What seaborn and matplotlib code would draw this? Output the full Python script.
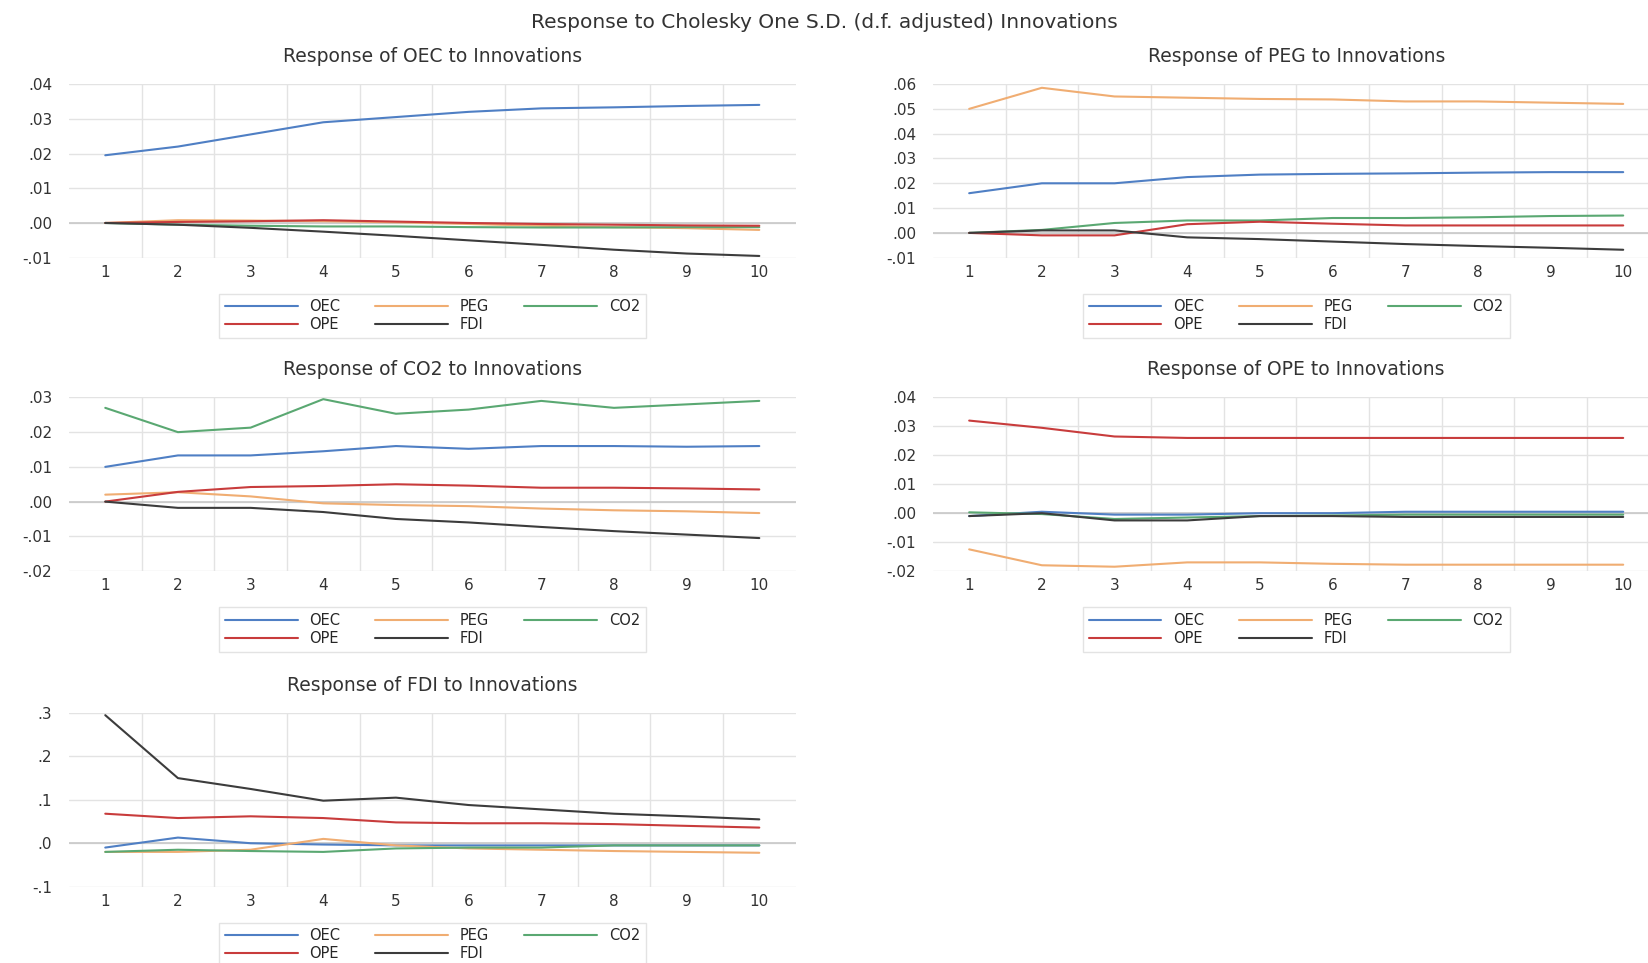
import matplotlib
matplotlib.use('Agg')

import numpy as np
import pandas as pd
import matplotlib.pyplot as plt
import seaborn as sns

# ------------------------------------------------------------------
# impulse responses (periods 1..10)
# ------------------------------------------------------------------
periods = list(range(1, 11))
shocks = ['OEC', 'PEG', 'CO2', 'OPE', 'FDI']

resp_oec = {
    'OEC': [.0195, .022, .0255, .029, .0305, .032, .033, .0333, .0337, .034],
    'PEG': [0, .0008, .0007, .0005, .0002, -.0003, -.0008, -.0012, -.0015, -.002],
    'CO2': [0, -.0005, -.0008, -.001, -.001, -.0012, -.0013, -.0013, -.0012, -.0012],
    'OPE': [0, .0003, .0005, .0008, .0004, 0, -.0003, -.0005, -.0007, -.0008],
    'FDI': [0, -.0005, -.0014, -.0025, -.0037, -.005, -.0063, -.0077, -.0088, -.0095],
}
resp_peg = {
    'OEC': [.016, .020, .020, .0225, .0235, .0238, .024, .0243, .0245, .0245],
    'PEG': [.050, .0585, .055, .0545, .054, .0538, .053, .053, .0525, .052],
    'CO2': [0, .0012, .004, .005, .005, .006, .006, .0063, .0068, .007],
    'OPE': [0, -.001, -.001, .0035, .0045, .0037, .003, .003, .003, .003],
    'FDI': [0, .001, .001, -.0018, -.0025, -.0035, -.0045, -.0053, -.006, -.0068],
}
resp_co2 = {
    'OEC': [.010, .0133, .0133, .0145, .016, .0152, .016, .016, .0158, .016],
    'PEG': [.002, .0027, .0015, -.0005, -.001, -.0013, -.002, -.0025, -.0028, -.0033],
    'CO2': [.027, .020, .0213, .0295, .0253, .0265, .029, .027, .028, .029],
    'OPE': [0, .0028, .0042, .0045, .005, .0046, .004, .004, .0038, .0035],
    'FDI': [0, -.0018, -.0018, -.003, -.005, -.006, -.0073, -.0085, -.0095, -.0105],
}
resp_ope = {
    'OEC': [-.001, .0005, -.0005, -.0005, 0, 0, .0005, .0005, .0005, .0005],
    'PEG': [-.0125, -.018, -.0185, -.017, -.017, -.0175, -.0178, -.0178, -.0178, -.0178],
    'CO2': [.0003, -.0003, -.002, -.0015, -.001, -.0008, -.0005, -.0005, -.0005, -.0005],
    'OPE': [.032, .0295, .0265, .026, .026, .026, .026, .026, .026, .026],
    'FDI': [-.001, 0, -.0025, -.0025, -.001, -.001, -.0013, -.0013, -.0013, -.0013],
}
resp_fdi = {
    'OEC': [-.01, .013, 0, -.003, -.005, -.005, -.005, -.005, -.005, -.005],
    'PEG': [-.02, -.02, -.015, .01, -.005, -.012, -.015, -.018, -.02, -.022],
    'CO2': [-.02, -.015, -.018, -.02, -.012, -.01, -.01, -.005, -.005, -.005],
    'OPE': [.068, .058, .062, .058, .048, .046, .046, .044, .04, .036],
    'FDI': [.295, .15, .125, .098, .105, .088, .078, .068, .062, .055],
}

palette = {'OEC': '#4f7fc4', 'PEG': '#f0ad72', 'CO2': '#5aa872',
           'OPE': '#c83c3c', 'FDI': '#3c3c3c'}

# (target, responses, y ticks, decimals, axes rect in figure fraction)
panels = [
    ('OEC', resp_oec, [-.01, 0, .01, .02, .03, .04], 2, [0.0418, 0.7324, 0.4407, 0.1803]),
    ('PEG', resp_peg, [-.01, 0, .01, .02, .03, .04, .05, .06], 2, [0.5657, 0.7324, 0.4407, 0.1803]),
    ('CO2', resp_co2, [-.02, -.01, 0, .01, .02, .03], 2, [0.0418, 0.4070, 0.4407, 0.1803]),
    ('OPE', resp_ope, [-.02, -.01, 0, .01, .02, .03, .04], 2, [0.5657, 0.4070, 0.4407, 0.1803]),
    ('FDI', resp_fdi, [-.1, 0, .1, .2, .3], 1, [0.0418, 0.0793, 0.4407, 0.1803]),
]

# legend fills column-wise; this order gives rows OEC PEG CO2 / OPE FDI
legend_order = ['OEC', 'OPE', 'PEG', 'FDI', 'CO2']

sns.set_style('white')
plt.rcParams['font.family'] = ['DejaVu Sans']

fig = plt.figure(figsize=(16.49, 9.63), dpi=100)
fig.suptitle('Response to Cholesky One S.D. (d.f. adjusted) Innovations',
             y=0.987, fontsize=14.5, color='#333333')


def fmt_tick(v, dec):
    s = f'{abs(v):.{dec}f}'.replace('0.', '.', 1)
    return '-' + s if v < 0 else s


for target, resp, yticks, dec, rect in panels:
    ax = fig.add_axes(rect)
    df = pd.DataFrame([
        {'period': p, 'value': v, 'shock': s}
        for s in shocks for p, v in zip(periods, resp[s])
    ])
    sns.lineplot(data=df, x='period', y='value', hue='shock', hue_order=shocks,
                 palette=palette, linewidth=1.5, ax=ax)

    ax.set_xlim(0.5, 10.5)
    ax.set_ylim(yticks[0], yticks[-1])
    ax.set_xticks(periods)
    ax.set_xticks(np.arange(1.5, 10.5, 1), minor=True)
    ax.set_yticks(yticks)
    ax.set_yticklabels([fmt_tick(v, dec) for v in yticks])
    ax.grid(True, axis='y', which='major', color='#e3e3e3', linewidth=1)
    ax.grid(True, axis='x', which='minor', color='#e3e3e3', linewidth=1)
    ax.axhline(0, color='#c8c8c8', linewidth=1.2, zorder=1)
    for sp in ax.spines.values():
        sp.set_visible(False)
    ax.tick_params(axis='both', which='both', length=0, labelsize=11, colors='#333333')
    ax.tick_params(axis='x', pad=5)
    ax.tick_params(axis='y', pad=12)
    ax.set_xlabel('')
    ax.set_ylabel('')
    ax.set_title(f'Response of {target} to Innovations', fontsize=13.5,
                 color='#333333', pad=16)

    handles, labels = ax.get_legend_handles_labels()
    lookup = dict(zip(labels, handles))
    ax.legend([lookup[k] for k in legend_order], legend_order,
              loc='upper center', bbox_to_anchor=(0.5, -0.165),
              ncol=3, fontsize=10.5, handlelength=5.0, columnspacing=2.4,
              labelspacing=0.2, frameon=True, edgecolor='#dddddd',
              fancybox=False, borderpad=0.4)

fig.savefig('out.png', dpi=100)
